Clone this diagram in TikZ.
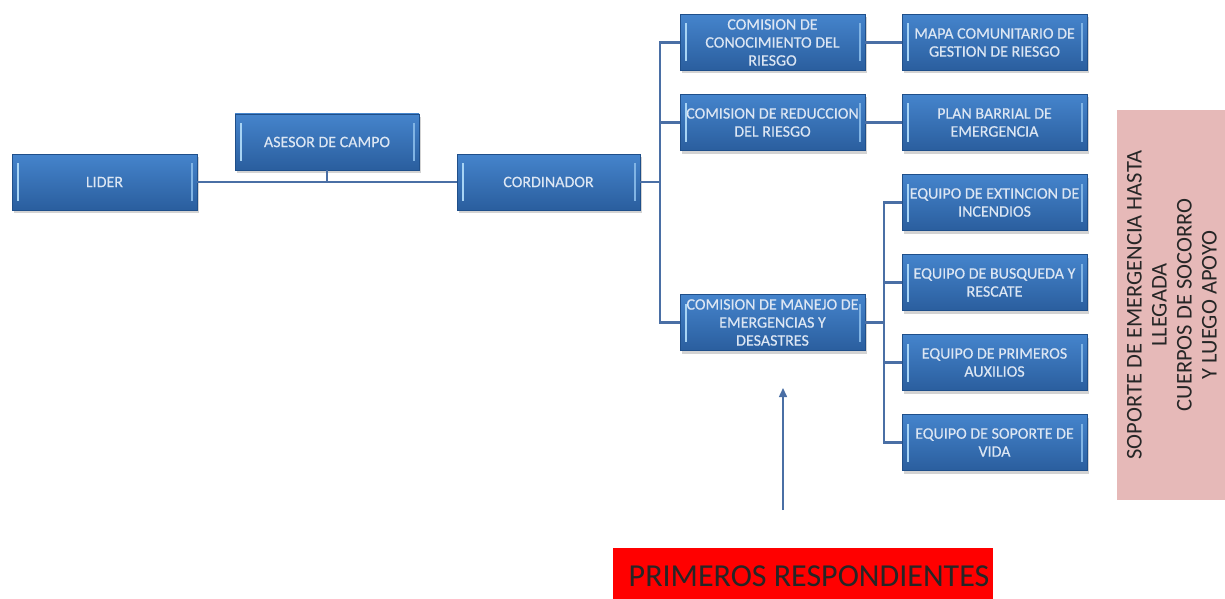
\documentclass[tikz,border=0pt]{standalone}
\usepackage{fontspec}
\setmainfont{Carlito}
\newfontfamily\boxfont{Carlito}[FakeBold=0.3]
\usetikzlibrary{shadows,arrows.meta,calc}
\definecolor{bluetop}{HTML}{4584CC}
\definecolor{bluebot}{HTML}{2A5E9E}
\definecolor{blueedge}{HTML}{1F4F8A}
\definecolor{linkcol}{HTML}{4A6FA5}
\definecolor{hilite}{HTML}{A8D4F4}
\definecolor{pinkbox}{HTML}{E6B9B8}
\definecolor{txtlight}{HTML}{DCE6F3}
\tikzset{
  orgbox/.style={rectangle, minimum width=#1, minimum height=56pt, inner sep=0pt,
    align=center, top color=bluetop, bottom color=bluebot,
    draw=blueedge, line width=0.6pt,
    drop shadow={opacity=0.35, shadow xshift=2pt, shadow yshift=-3pt},
    text=txtlight, font=\boxfont\fontsize{16}{18}\selectfont,
    path picture={
      \draw[hilite, line width=2pt] ([xshift=6pt,yshift=-9pt]path picture bounding box.north west) -- ([xshift=6pt,yshift=9pt]path picture bounding box.south west);
      \draw[hilite!60!bluetop, line width=1.5pt] ([xshift=-5pt,yshift=-9pt]path picture bounding box.north east) -- ([xshift=-5pt,yshift=9pt]path picture bounding box.south east);
    }},
  orgbox/.default=185pt,
  link/.style={draw=linkcol, line width=2.2pt},
}
\begin{document}
\begin{tikzpicture}[x=1pt,y=-1pt]
\useasboundingbox (0,0) rectangle (1225,599);
% main row
\node[orgbox=185pt] (lider) at (104.5,182) {LIDER};
\node[orgbox=184pt] (asesor) at (327,142) {ASESOR DE CAMPO};
\node[orgbox=183pt] (coord) at (548.5,182) {CORDINADOR};
% commissions
\node[orgbox] (conoc) at (772.5,42.5) {COMISION DE\\CONOCIMIENTO DEL\\RIESGO};
\node[orgbox] (reduc) at (772.5,122.5) {COMISION DE REDUCCION\\DEL RIESGO};
\node[orgbox] (manejo) at (772.5,322.5) {COMISION DE MANEJO DE\\EMERGENCIAS Y\\DESASTRES};
% right column
\node[orgbox] (mapa) at (994.5,42.5) {MAPA COMUNITARIO DE\\GESTION DE RIESGO};
\node[orgbox] (plan) at (994.5,122.5) {PLAN BARRIAL DE\\EMERGENCIA};
\node[orgbox] (extin) at (994.5,202.5) {EQUIPO DE EXTINCION DE\\INCENDIOS};
\node[orgbox] (busq) at (994.5,282.5) {EQUIPO DE BUSQUEDA Y\\RESCATE};
\node[orgbox] (prim) at (994.5,362.5) {EQUIPO DE PRIMEROS\\AUXILIOS};
\node[orgbox] (vida) at (994.5,442.5) {EQUIPO DE SOPORTE DE\\VIDA};
% pink box
\node[rectangle, fill=pinkbox, minimum width=108pt, minimum height=390pt, inner sep=0pt] (soporte) at (1171,305) {};
\node[rotate=90, align=center, text=black!85, font=\fontsize{22.5}{25}\selectfont] (soptxt) at (1172,305) {SOPORTE DE EMERGENCIA HASTA\\LLEGADA\\CUERPOS DE SOCORRO\\Y LUEGO APOYO};
% red box
\node[rectangle, fill=red, minimum width=380pt, minimum height=52pt, inner sep=0pt] (resp) at (803,574) {};
\node[text=black!85, font=\fontsize{32}{34}\selectfont, inner sep=0pt] (resptxt) at (809,576) {PRIMEROS RESPONDIENTES};
\coordinate (arrstart) at (783,510);
% connectors
\coordinate (j1) at (327,182);
\path[link] (lider.east) -- (coord.west);
\path[link] (asesor.south -| j1) -- (j1);
\coordinate (v1) at (660,182);
\path[link] (coord.east) -- (v1);
\path[link] (conoc.west) -| (v1) |- (manejo.west);
\path[link] (reduc.west) -- (reduc.west -| v1);
\path[link] (conoc.east) -- (mapa.west);
\path[link] (reduc.east) -- (plan.west);
\coordinate (v2) at (884,322.5);
\path[link] (manejo.east) -- (v2);
\path[link] (extin.west) -| (v2) |- (vida.west);
\path[link] (busq.west) -- (busq.west -| v2);
\path[link] (prim.west) -- (prim.west -| v2);
\draw[linkcol, line width=1.5pt, -{Triangle[length=9pt,width=8pt]}] (arrstart) -- (783,388);
\end{tikzpicture}
\end{document}
